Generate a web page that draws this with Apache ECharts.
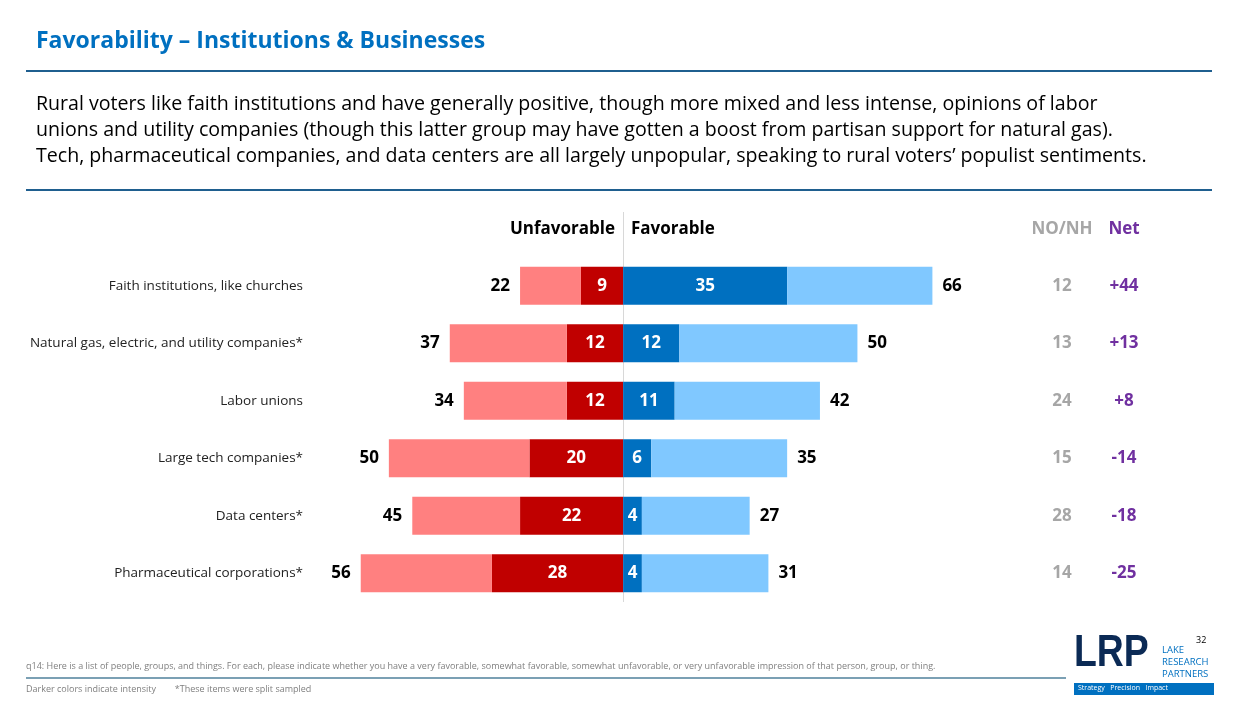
<!DOCTYPE html>
<html><head><meta charset="utf-8">
<script src="https://cdn.jsdelivr.net/npm/echarts@6/dist/echarts.min.js"></script>
<style>html,body{margin:0;padding:0;background:#fff}#c{width:1236px;height:701px}</style>
</head><body><div id="c"></div>
<script>
const categories = ["Faith institutions, like churches","Natural gas, electric, and utility companies*","Labor unions","Large tech companies*","Data centers*","Pharmaceutical corporations*"];
const unfavTotal = [22,37,34,50,45,56];
const unfavStrong = [9,12,12,20,22,28];
const favTotal = [66,50,42,35,27,31];
const favStrong = [35,12,11,6,4,4];
const noNh = [12,13,24,15,28,14];
const net = ["+44","+13","+8","-14","-18","-25"];

const F = "'Open Sans', 'Noto Sans', sans-serif";
const chart = echarts.init(document.getElementById('c'));
const bold = {fontFamily:F, fontWeight:'bold', fontSize:17};
chart.setOption({
  animation:false,
  grid:{left:342, right:238, top:257, bottom:99},
  xAxis:{type:'value', min:-60, max:80, show:false},
  yAxis:{type:'category', inverse:true, data:categories,
    axisLine:{show:false}, axisTick:{show:false},
    axisLabel:{margin:39, fontFamily:F, fontSize:13.5, color:'#222'}},
  series:[
    {type:'bar', stack:'all', barWidth:38, data:unfavStrong.map(v=>-v), itemStyle:{color:'#c00000'},
     label:{show:true, position:'inside', ...bold, color:'#fff', formatter:p=>unfavStrong[p.dataIndex]}},
    {type:'bar', stack:'all', barWidth:38, data:unfavTotal.map((v,i)=>-(v-unfavStrong[i])), itemStyle:{color:'#ff8080'},
     label:{show:true, position:'left', distance:10, ...bold, color:'#000', formatter:p=>unfavTotal[p.dataIndex]}},
    {type:'bar', stack:'all', barWidth:38, data:favStrong, itemStyle:{color:'#0070c0'},
     label:{show:true, position:'inside', ...bold, color:'#fff', formatter:p=>favStrong[p.dataIndex]}},
    {type:'bar', stack:'all', barWidth:38, data:favTotal.map((v,i)=>v-favStrong[i]), itemStyle:{color:'#80c8ff'},
     label:{show:true, position:'right', distance:10, ...bold, color:'#000', formatter:p=>favTotal[p.dataIndex]}}
  ]
});

const g = [
  {type:'text', left:36, top:30, style:{text:'Favorability – Institutions & Businesses', font:"bold 23px "+F, fill:'#0070c0'}},
  {type:'rect', shape:{x:26,y:70,width:1186,height:2}, style:{fill:'#1f5f8f'}},
  {type:'text', left:36, top:91, style:{text:'Rural voters like faith institutions and have generally positive, though more mixed and less intense, opinions of labor\nunions and utility companies (though this latter group may have gotten a boost from partisan support for natural gas).\nTech, pharmaceutical companies, and data centers are all largely unpopular, speaking to rural voters’ populist sentiments.', font:"19.6px "+F, lineHeight:26, fill:'#000'}},
  {type:'rect', shape:{x:26,y:189,width:1186,height:2}, style:{fill:'#1f5f8f'}},
  {type:'rect', shape:{x:623,y:212,width:1,height:390}, style:{fill:'#d8d8d8'}},
  {type:'text', x:615, y:229, style:{text:'Unfavorable', font:"bold 17px "+F, fill:'#000', align:'right', verticalAlign:'middle'}},
  {type:'text', x:631, y:229, style:{text:'Favorable', font:"bold 17px "+F, fill:'#000', align:'left', verticalAlign:'middle'}},
  {type:'text', x:1062, y:229, style:{text:'NO/NH', font:"bold 17px "+F, fill:'#a6a6a6', align:'center', verticalAlign:'middle'}},
  {type:'text', x:1124, y:229, style:{text:'Net', font:"bold 17px "+F, fill:'#7030a0', align:'center', verticalAlign:'middle'}},
  {type:'text', left:26, top:662, style:{text:'q14: Here is a list of people, groups, and things. For each, please indicate whether you have a very favorable, somewhat favorable, somewhat unfavorable, or very unfavorable impression of that person, group, or thing.', font:"9px "+F, fill:'#7f7f7f'}},
  {type:'rect', shape:{x:26,y:677,width:1040,height:2}, style:{fill:'#7ba0b4'}},
  {type:'text', left:26, top:685, style:{text:'Darker colors indicate intensity        *These items were split sampled', font:"9px "+F, fill:'#7f7f7f'}},
  {type:'text', left:1074, top:632, style:{text:'LRP', font:"bold 44px 'Liberation Sans Narrow', 'Liberation Sans', sans-serif", fill:'#0b2a55', transform:''}, scaleX:0.85},
  {type:'text', left:1162, top:644, style:{text:'LAKE\nRESEARCH\nPARTNERS', font:"9.5px "+F, lineHeight:12, fill:'#0070c0'}},
  {type:'text', left:1196, top:636, style:{text:'32', font:"9px "+F, fill:'#000'}},
  {type:'rect', shape:{x:1074,y:683,width:140,height:12}, style:{fill:'#0070c0'}},
  {type:'text', left:1078, top:684, style:{text:'Strategy   Precision   Impact', font:"7px "+F, fill:'#fff'}}
];
categories.forEach((c,i)=>{
  const y = chart.convertToPixel({yAxisIndex:0}, c);
  g.push({type:'text', x:1062, y:y, style:{text:String(noNh[i]), font:"bold 17px "+F, fill:'#a6a6a6', align:'center', verticalAlign:'middle'}});
  g.push({type:'text', x:1124, y:y, style:{text:net[i], font:"bold 17px "+F, fill:'#7030a0', align:'center', verticalAlign:'middle'}});
});
chart.setOption({graphic:g});
</script></body></html>
